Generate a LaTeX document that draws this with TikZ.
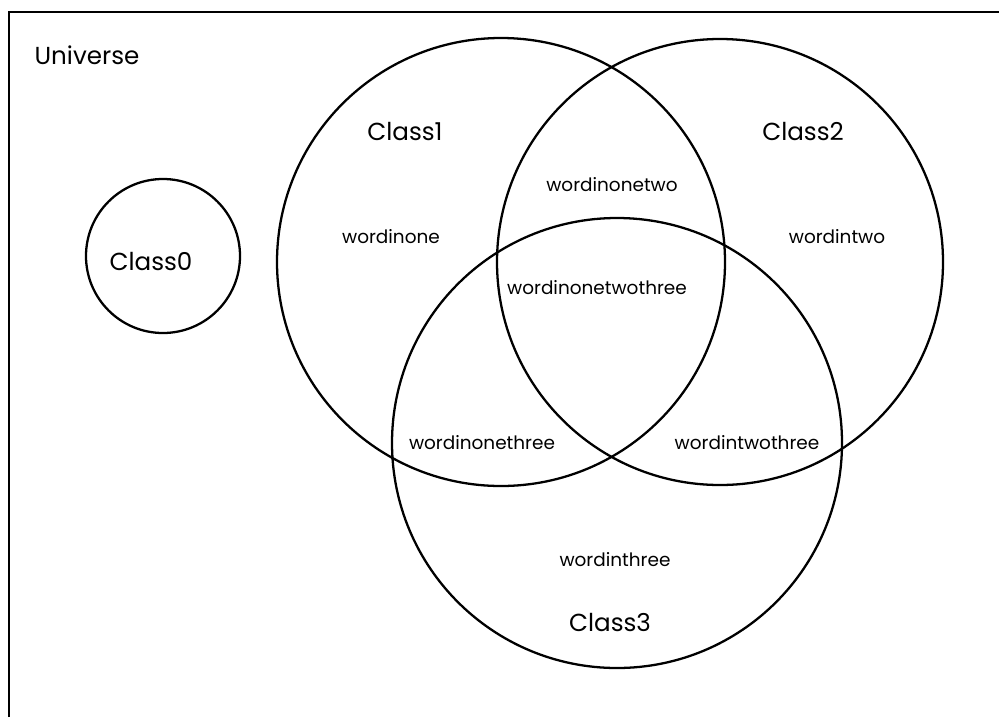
\documentclass[tikz,border=0pt]{standalone}
\usepackage{fontspec}
\setmainfont{Poppins}
\usetikzlibrary{positioning}

\begin{document}
\begin{tikzpicture}[x=0.02cm, y=-0.02cm, line width=1.3pt]
    \tikzset{classlabel/.style={font=\fontsize{14}{16}\selectfont},
             wordlabel/.style={font=\fontsize{10.5}{12}\selectfont}}
    \useasboundingbox (0,0) rectangle (999,717);

    % Universe
    \draw (9,717) -- (9,12) -- (999,12);
    \node[classlabel] (universe) at (87,55) {Universe};

    % Class0
    \draw (163,256) circle (77);
    \node[classlabel] (class0) at (151,262) {Class0};

    % Classes 1, 2, 3
    \draw (501,262) circle (224);
    \draw (720,262) circle (223);
    \draw (617,443) circle (225);
    \node[classlabel] (class1) at (405,132) {Class1};
    \node[classlabel] (class2) at (803,132) {Class2};
    \node[classlabel] (class3) at (610,622) {Class3};

    % Words
    \node[wordlabel] (one) at (391,237) {wordinone};
    \node[wordlabel] (two) at (837,237) {wordintwo};
    \node[wordlabel] (three) at (615,560) {wordinthree};
    \node[wordlabel] (onetwo) at (612,185) {wordinonetwo};
    \node[wordlabel] (onetwothree) at (597,288) {wordinonetwothree};
    \node[wordlabel] (onethree) at (482,443) {wordinonethree};
    \node[wordlabel] (twothree) at (747,443) {wordintwothree};
\end{tikzpicture}
\end{document}
